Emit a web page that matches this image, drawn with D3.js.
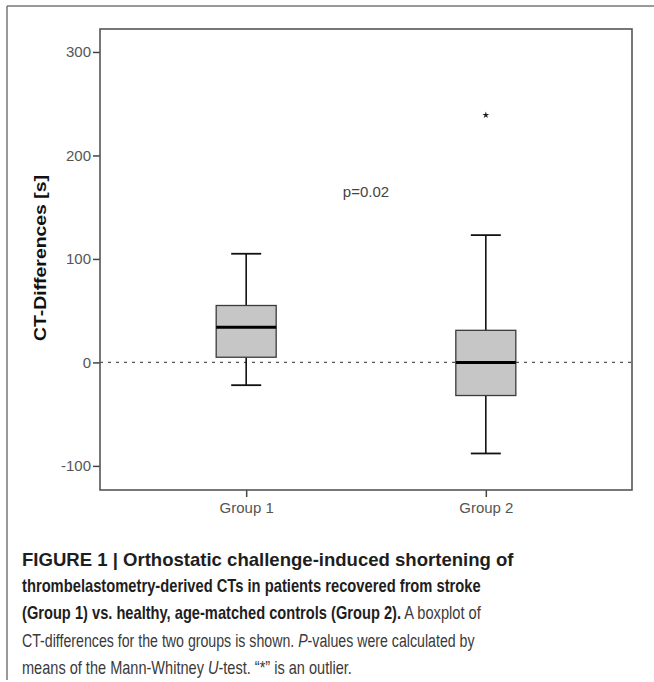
<!DOCTYPE html>
<html>
<head>
<meta charset="utf-8">
<script src="https://cdn.jsdelivr.net/npm/d3@7.9.0/dist/d3.min.js"></script>
<style>
  html, body { margin: 0; padding: 0; background: #fff; }
  svg { display: block; font-family: "Liberation Sans", Arial, sans-serif; }
</style>
</head>
<body>
<svg id="chart" width="654" height="682"></svg>
<script>
// box stats (seconds)
const groups = ['Group 1', 'Group 2'];
const whiskerLow = [-22, -88];
const q1 = [5, -32];
const median = [34, 0];
const q3 = [55, 31];
const whiskerHigh = [105, 123];
const outliers = [{ group: 'Group 2', value: 239 }];
const yTicks = [-100, 0, 100, 200, 300];
const pLabel = 'p=0.02';
const pValueAt = 165;

const svg = d3.select('#chart');
const plot = { left: 100, right: 632, top: 29, bottom: 490 };

const x = d3.scalePoint().domain(groups).range([plot.left, plot.right]).padding(0.61);
const y = d3.scaleLinear().domain([-123.3, 322.2]).range([plot.bottom, plot.top]);

// outer figure frame (top + left rule)
svg.append('line').attr('x1', 7).attr('x2', 654).attr('y1', 6).attr('y2', 6)
  .attr('stroke', '#777').attr('stroke-width', 1.5);
svg.append('line').attr('x1', 7).attr('x2', 7).attr('y1', 6).attr('y2', 680)
  .attr('stroke', '#777').attr('stroke-width', 1.5);

// zero reference line
svg.append('line')
  .attr('x1', plot.left).attr('x2', plot.right)
  .attr('y1', y(0)).attr('y2', y(0))
  .attr('stroke', '#555').attr('stroke-width', 1.2)
  .attr('stroke-dasharray', '3,5');

// axes
const yAxis = svg.append('g')
  .attr('transform', `translate(${plot.left},0)`)
  .call(d3.axisLeft(y).tickValues(yTicks).tickSize(7).tickPadding(2).tickFormat(d => String(d)));
const xAxis = svg.append('g')
  .attr('transform', `translate(0,${plot.bottom})`)
  .call(d3.axisBottom(x).tickSize(7).tickPadding(5));
[yAxis, xAxis].forEach(g => {
  g.select('.domain').remove();
  g.selectAll('.tick line').attr('stroke', '#444').attr('stroke-width', 1.5);
  g.selectAll('.tick text').attr('fill', '#555').style('font-size', '15px')
    .style('font-family', '"Liberation Sans", Arial, sans-serif');
});

// plot frame
svg.append('rect')
  .attr('x', plot.left).attr('y', plot.top)
  .attr('width', plot.right - plot.left).attr('height', plot.bottom - plot.top)
  .attr('fill', 'none').attr('stroke', '#555').attr('stroke-width', 1.6);

// boxplots
const boxW = 60, capW = 30;
const data = groups.map((g, i) => ({
  g, lo: whiskerLow[i], q1: q1[i], med: median[i], q3: q3[i], hi: whiskerHigh[i]
}));
const box = svg.append('g').selectAll('g').data(data).join('g');

box.append('line')
  .attr('x1', d => x(d.g)).attr('x2', d => x(d.g))
  .attr('y1', d => y(d.hi)).attr('y2', d => y(d.q3))
  .attr('stroke', '#111').attr('stroke-width', 1.6);
box.append('line')
  .attr('x1', d => x(d.g)).attr('x2', d => x(d.g))
  .attr('y1', d => y(d.q1)).attr('y2', d => y(d.lo))
  .attr('stroke', '#111').attr('stroke-width', 1.6);
box.selectAll('.cap').data(d => [[d.g, d.hi], [d.g, d.lo]]).join('line')
  .attr('class', 'cap')
  .attr('x1', d => x(d[0]) - capW / 2).attr('x2', d => x(d[0]) + capW / 2)
  .attr('y1', d => y(d[1])).attr('y2', d => y(d[1]))
  .attr('stroke', '#111').attr('stroke-width', 1.8);
box.append('rect')
  .attr('x', d => x(d.g) - boxW / 2).attr('width', boxW)
  .attr('y', d => y(d.q3)).attr('height', d => y(d.q1) - y(d.q3))
  .attr('fill', '#c6c6c6').attr('stroke', '#3a3a3a').attr('stroke-width', 1.3);
box.append('line')
  .attr('x1', d => x(d.g) - boxW / 2).attr('x2', d => x(d.g) + boxW / 2)
  .attr('y1', d => y(d.med)).attr('y2', d => y(d.med))
  .attr('stroke', '#000').attr('stroke-width', 3);

// outliers
svg.append('g').selectAll('path').data(outliers).join('path')
  .attr('transform', d => `translate(${x(d.group)},${y(d.value)})`)
  .attr('d', d3.symbol(d3.symbolStar, 14))
  .attr('fill', '#222');

// p-value annotation
svg.append('text')
  .attr('x', (plot.left + plot.right) / 2).attr('y', y(pValueAt) + 5)
  .attr('text-anchor', 'middle').attr('fill', '#444').style('font-size', '15px')
  .text(pLabel);

// y-axis title
svg.append('text')
  .attr('transform', 'translate(46,258) rotate(-90)')
  .attr('text-anchor', 'middle').attr('fill', '#111')
  .style('font-size', '16px').style('font-weight', 'bold')
  .attr('textLength', 166).attr('lengthAdjust', 'spacingAndGlyphs')
  .text('CT-Differences [s]');

// caption: fit each line horizontally to the width it has in the figure
const captionLines = [
  { end: 514, parts: [{ t: 'FIGURE 1 | Orthostatic challenge-induced shortening of', b: true }] },
  { end: 481, parts: [{ t: 'thrombelastometry-derived CTs in patients recovered from stroke', b: true }] },
  { end: 481, parts: [{ t: '(Group 1) vs. healthy, age-matched controls (Group 2).', b: true }, { t: ' A boxplot of' }] },
  { end: 475, parts: [{ t: 'CT-differences for the two groups is shown. ' }, { t: 'P', i: true }, { t: '-values were calculated by' }] },
  { end: 352, parts: [{ t: 'means of the Mann-Whitney ' }, { t: 'U', i: true }, { t: '-test. \u201c*\u201d is an outlier.' }] }
];
const capX = 22;
const capBase = [566, 592, 619, 646.5, 674];
captionLines.forEach((line, i) => {
  const t = svg.append('text')
    .attr('x', 0).attr('y', 0)
    .style('font-size', '18px');
  line.parts.forEach(p => {
    t.append('tspan')
      .style('font-weight', p.b ? 'bold' : 'normal')
      .style('font-style', p.i ? 'italic' : 'normal')
      .attr('fill', p.b ? '#1e1e1e' : '#3a3a3a')
      .text(p.t);
  });
  const natural = t.node().getComputedTextLength();
  const sx = (line.end - capX) / natural;
  t.attr('transform', `translate(${capX},${capBase[i]}) scale(${sx},1)`);
});
</script>
</body>
</html>
